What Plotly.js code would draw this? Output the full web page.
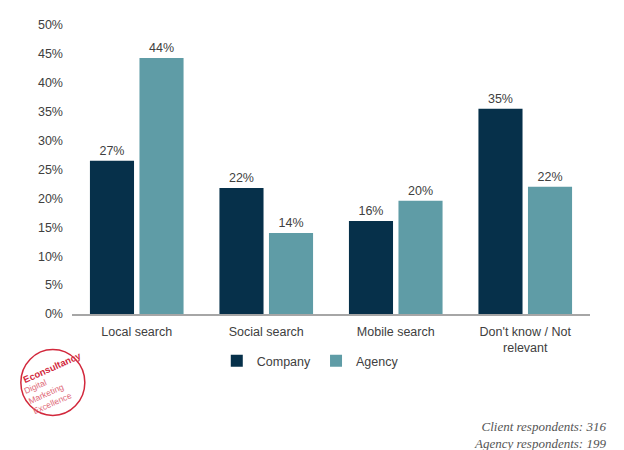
<!DOCTYPE html>
<html>
<head>
<meta charset="utf-8">
<script src="https://cdn.plot.ly/plotly-3.0.1.min.js"></script>
<style>html,body{margin:0;padding:0;background:#fff;}#chart{width:624px;height:450px;}</style>
</head>
<body>
<div id="chart"></div>
<script>
var categories = ['Local search', 'Social search', 'Mobile search', "Don't know / Not<br>relevant"];
var companyValues = [26.5, 21.8, 16.1, 35.5];
var agencyValues = [44.3, 14.0, 19.6, 22.0];
var companyLabels = ['27%', '22%', '16%', '35%'];
var agencyLabels = ['44%', '14%', '20%', '22%'];
var yTicks = [0, 5, 10, 15, 20, 25, 30, 35, 40, 45, 50];

var labelFont = {family: 'Liberation Sans, Arial, sans-serif', size: 12.5, color: '#404040'};

var traces = [
  {type: 'bar', name: 'Company', x: categories, y: companyValues, text: companyLabels,
   textposition: 'outside', textfont: labelFont, cliponaxis: false,
   marker: {color: '#06304a'}, hoverinfo: 'skip'},
  {type: 'bar', name: 'Agency', x: categories, y: agencyValues, text: agencyLabels,
   textposition: 'outside', textfont: labelFont, cliponaxis: false,
   marker: {color: '#5f9ca6'}, hoverinfo: 'skip'}
];

var layout = {
  width: 624, height: 450,
  margin: {l: 72, r: 34, t: 25, b: 136},
  paper_bgcolor: '#fff', plot_bgcolor: '#fff',
  barmode: 'group', bargap: 0.235, bargroupgap: 0.11,
  font: labelFont,
  showlegend: true,
  legend: {orientation: 'h', x: 0.46, xanchor: 'center', y: -0.163, yanchor: 'middle',
           font: labelFont, itemwidth: 30, tracegroupgap: 0, traceorder: 'normal'},
  xaxis: {showgrid: false, showline: true, linecolor: '#a6a6a6', linewidth: 1.5,
          ticks: '', tickfont: labelFont, ticklabelstandoff: 5, fixedrange: true},
  yaxis: {range: [0, 50], tickvals: yTicks, ticktext: yTicks.map(function(v){return v + '%';}),
          showgrid: false, zeroline: false, showline: false, ticks: '',
          tickfont: labelFont, ticklabelstandoff: 8, fixedrange: true},
  shapes: [
    {type: 'circle', xref: 'paper', yref: 'paper', xsizemode: 'pixel', ysizemode: 'pixel',
     xanchor: -0.037, yanchor: -0.237, x0: -32, x1: 32, y0: -33, y1: 33,
     line: {color: '#d2283c', width: 1.5}}
  ],
  annotations: [
    {xref: 'paper', yref: 'paper', x: -0.039, y: -0.185, xanchor: 'center', yanchor: 'middle',
     text: '<b>Econsultancy</b>', showarrow: false,
     textangle: -24, font: {family: 'Liberation Sans, Arial, sans-serif', size: 9.5, color: '#d2283c'}},
    {xref: 'paper', yref: 'paper', x: -0.047, y: -0.272, xanchor: 'center', yanchor: 'middle', align: 'left',
     text: 'Digital<br>Marketing<br>Excellence', showarrow: false, textangle: -24,
     font: {family: 'Liberation Sans, Arial, sans-serif', size: 8.5, color: '#e06a78'}},
    {xref: 'paper', yref: 'paper', x: 1.034, y: -0.419, xanchor: 'right', yanchor: 'middle', align: 'right',
     text: '<i>Client respondents: 316</i><br><i>Agency respondents: 199</i>', showarrow: false,
     font: {family: 'Liberation Serif, Times New Roman, serif', size: 13, color: '#555'}}
  ]
};

Plotly.newPlot('chart', traces, layout, {displayModeBar: false, staticPlot: true});
</script>
</body>
</html>
